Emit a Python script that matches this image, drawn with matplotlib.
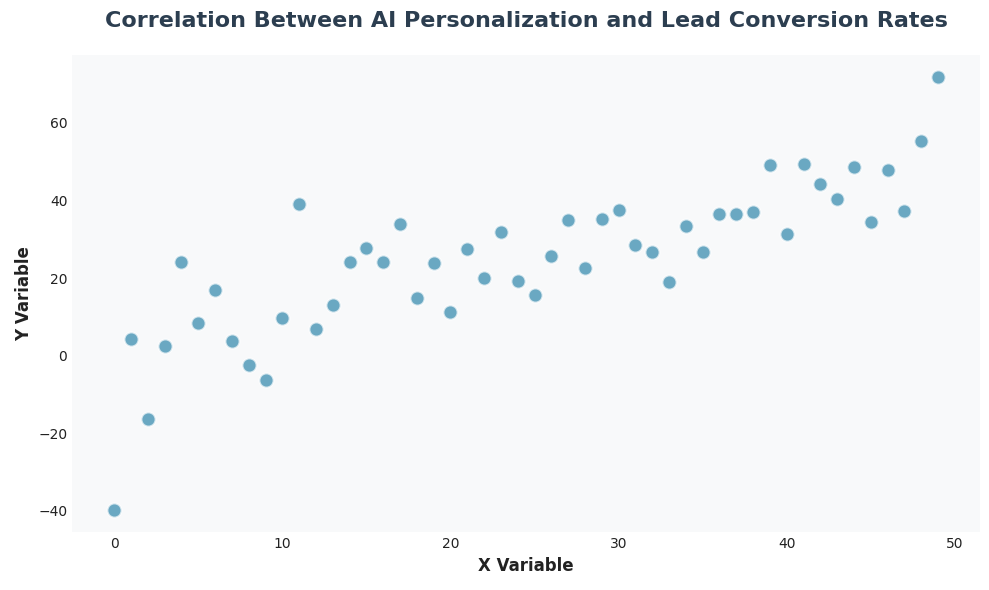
import matplotlib
matplotlib.use("Agg")
import matplotlib.pyplot as plt
import numpy as np

x_values = list(range(50))
y_values = [-39.7, 4.4, -16.4, 2.6, 24.1, 8.5, 16.9, 3.8, -2.3, -6.2,
            9.7, 39.0, 6.9, 13.1, 24.1, 27.7, 24.1, 33.8, 14.9, 23.8,
            11.3, 27.4, 20.0, 31.8, 19.2, 15.6, 25.6, 34.9, 22.6, 35.1,
            37.4, 28.5, 26.7, 19.0, 33.3, 26.7, 36.4, 36.4, 36.9, 49.2,
            31.3, 49.5, 44.1, 40.3, 48.5, 34.4, 47.9, 37.2, 55.4, 71.8]

fig, ax = plt.subplots(figsize=(9.89, 5.9), dpi=100)
ax.set_facecolor('#f8f9fa')
ax.scatter(x_values, y_values, s=105, color='#2E86AB', alpha=0.7,
           edgecolors='white', linewidths=1.5, zorder=3)
for s in ax.spines.values():
    s.set_visible(False)
ax.tick_params(length=0, labelsize=10, colors='#222222')
ax.set_xlabel('X Variable', fontsize=12, fontweight='bold', color='#222222')
ax.set_ylabel('Y Variable', fontsize=12, fontweight='bold', color='#222222')
ax.set_title('Correlation Between AI Personalization and Lead Conversion Rates',
             fontsize=16, fontweight='bold', color='#2c3e50', pad=20)
ax.set_xlim(-2.5, 51.5)
ax.set_ylim(-45.5, 77.5)
fig.subplots_adjust(left=0.073, right=0.991, top=0.907, bottom=0.098)
fig.savefig('out.png', dpi=100)
